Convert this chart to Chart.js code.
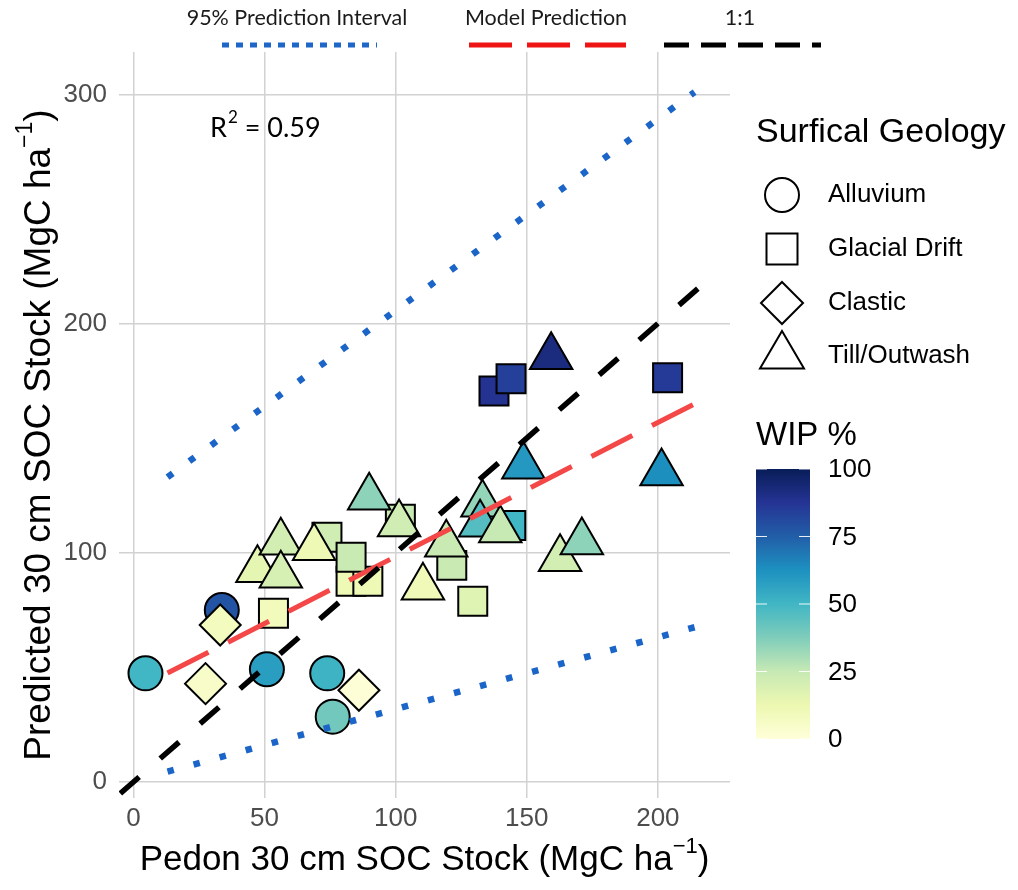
<!DOCTYPE html>
<html>
<head>
<meta charset="utf-8">
<script src="https://cdn.jsdelivr.net/npm/chart.js@4.4.0/dist/chart.umd.min.js"></script>
<style>
  html, body { margin: 0; padding: 0; background: #fff; }
</style>
</head>
<body>
<canvas id="chart" width="1018" height="890"></canvas>
<script>
// values (pedon vs predicted SOC stock, WIP %)
const alluviumX = [4.6, 33.7, 50.9, 73.9, 76.0];
const alluviumY = [47.4, 75.0, 49.2, 47.4, 28.5];
const alluviumWip = [50, 78, 58, 51, 40];

const driftX = [53.4, 73.8, 83.0, 89.4, 83.0, 101.8, 121.4, 129.4, 143.9, 137.5, 144.0, 203.7];
const driftY = [73.6, 106.8, 87.6, 87.6, 98.0, 114.6, 94.5, 78.8, 111.9, 170.6, 175.9, 176.4];
const driftWip = [9, 22, 11, 11, 24, 25, 24, 17, 50, 88, 84, 86];

const clasticX = [33.1, 27.5, 86.0];
const clasticY = [68.5, 42.9, 40.0];
const clasticWip = [8, 5, 1];

const tillX = [47.3, 56.2, 56.2, 68.9, 89.9, 101.3, 110.4, 119.3, 133.1, 132.2, 139.9, 148.7, 162.7, 171.0, 159.3, 201.4];
const tillY = [92.6, 104.6, 90.2, 102.2, 124.2, 112.6, 85.0, 103.7, 121.2, 112.4, 109.9, 137.7, 97.4, 104.7, 185.5, 134.8];
const tillWip = [15, 21, 20, 11, 35, 22, 10, 24, 34, 46, 25, 60, 21, 35, 92, 63];

// reference / model lines
const oneToOneX = [-5, 222];
const oneToOneY = [-5, 222];
const modelX = [13, 214];
const modelY = [47.5, 165];
const upperX = [13, 214];
const upperY = [133, 301];
const lowerX = [13, 214];
const lowerY = [4.5, 67.5];

const xTickVals = [0, 50, 100, 150, 200];
const yTickVals = [0, 100, 200, 300];
const wipTicks = [0, 25, 50, 75, 100];

const ylgnbu = ['#ffffd9', '#edf8b1', '#c7e9b4', '#7fcdbb', '#41b6c4', '#1d91c0', '#225ea8', '#253494', '#081d58'];

function hexRgb(h) {
    return [parseInt(h.substr(1, 2), 16), parseInt(h.substr(3, 2), 16), parseInt(h.substr(5, 2), 16)];
}

function wipColor(v) {
    const t = Math.max(0, Math.min(1, v / 100)) * (ylgnbu.length - 1);
    const i = Math.min(Math.floor(t), ylgnbu.length - 2);
    const f = t - i;
    const a = hexRgb(ylgnbu[i]), b = hexRgb(ylgnbu[i + 1]);
    const c = a.map((x, k) => Math.round(x + (b[k] - x) * f));
    return 'rgb(' + c.join(',') + ')';
}

function pts(xs, ys) {
    return xs.map((x, i) => ({ x: x, y: ys[i] }));
}

const FONT = '"Liberation Sans", Arial, Helvetica, sans-serif';
const NOTE_FONT = 'Lato, "Open Sans", sans-serif';

function supText(ctx, main, sup, tail, cx, cy, angle, size) {
    ctx.save();
    ctx.translate(cx, cy);
    ctx.rotate(angle);
    ctx.fillStyle = '#000';
    ctx.textBaseline = 'middle';
    ctx.textAlign = 'left';
    const big = size + 'px ' + FONT;
    const small = Math.round(size * 0.62) + 'px ' + FONT;
    ctx.font = big;
    const w1 = ctx.measureText(main).width;
    const w3 = ctx.measureText(tail).width;
    ctx.font = small;
    const w2 = ctx.measureText(sup).width;
    let x = -(w1 + w2 + w3) / 2;
    ctx.font = big;
    ctx.fillText(main, x, 0);
    x += w1;
    ctx.font = small;
    ctx.fillText(sup, x, -size * 0.38);
    x += w2;
    ctx.font = big;
    ctx.fillText(tail, x, 0);
    ctx.restore();
}

function dashLine(ctx, x1, x2, y, color, width, dash) {
    ctx.save();
    ctx.strokeStyle = color;
    ctx.lineWidth = width;
    ctx.setLineDash(dash);
    ctx.beginPath();
    ctx.moveTo(x1, y);
    ctx.lineTo(x2, y);
    ctx.stroke();
    ctx.restore();
}

function legendShape(ctx, kind, x, y) {
    ctx.save();
    ctx.fillStyle = '#fff';
    ctx.strokeStyle = '#000';
    ctx.lineWidth = 2;
    ctx.beginPath();
    if (kind === 'circle') {
        ctx.arc(x, y, 17, 0, Math.PI * 2);
    } else if (kind === 'square') {
        ctx.rect(x - 15.5, y - 15.5, 31, 31);
    } else if (kind === 'diamond') {
        ctx.moveTo(x, y - 21); ctx.lineTo(x + 21, y); ctx.lineTo(x, y + 21); ctx.lineTo(x - 21, y);
        ctx.closePath();
    } else {
        ctx.moveTo(x, y - 25); ctx.lineTo(x + 22, y + 12.5); ctx.lineTo(x - 22, y + 12.5);
        ctx.closePath();
    }
    ctx.fill();
    ctx.stroke();
    ctx.restore();
}

const decor = {
    id: 'decor',
    afterDraw(chart) {
        const ctx = chart.ctx;
        const area = chart.chartArea;

        // axis titles
        supText(ctx, 'Pedon 30 cm SOC Stock (MgC ha', '\u22121', ')', (area.left + area.right) / 2, 860, 0, 35);
        supText(ctx, 'Predicted 30 cm SOC Stock (MgC ha', '\u22121', ')', 40, 435, -Math.PI / 2, 37);

        // top legend
        ctx.save();
        ctx.fillStyle = '#1a1a1a';
        ctx.font = '21.5px ' + NOTE_FONT;
        ctx.textAlign = 'center';
        ctx.textBaseline = 'middle';
        ctx.fillText('95% Prediction Interval', 297, 18);
        ctx.fillText('Model Prediction', 546, 18);
        ctx.fillText('1:1', 740, 18);
        ctx.restore();
        dashLine(ctx, 222, 377, 45, '#1f66c9', 5, [7, 7]);
        dashLine(ctx, 469, 626, 45, '#ee1414', 5, [43, 15]);
        dashLine(ctx, 664, 821, 45, '#000', 5, [25, 12]);

        // R squared note
        ctx.save();
        ctx.fillStyle = '#000';
        ctx.textBaseline = 'middle';
        ctx.textAlign = 'left';
        ctx.font = '27px ' + NOTE_FONT;
        ctx.fillText('R', 210, 128);
        let rx = 210 + ctx.measureText('R').width;
        ctx.font = '17px ' + NOTE_FONT;
        ctx.fillText('2', rx + 1, 118);
        rx += ctx.measureText('2').width + 1;
        ctx.font = '27px ' + NOTE_FONT;
        ctx.fillText(' = 0.59', rx, 128);
        ctx.restore();

        // shape legend
        ctx.save();
        ctx.fillStyle = '#000';
        ctx.textBaseline = 'middle';
        ctx.textAlign = 'left';
        ctx.font = '34px ' + FONT;
        ctx.fillText('Surfical Geology', 756, 133);
        ctx.font = '26px ' + FONT;
        const items = [['circle', 'Alluvium', 195], ['square', 'Glacial Drift', 249], ['diamond', 'Clastic', 303], ['triangle', 'Till/Outwash', 356]];
        items.forEach(it => {
            legendShape(ctx, it[0], 782, it[2]);
            ctx.fillText(it[1], 828, it[2]);
        });

        // colour bar
        ctx.font = '33px ' + FONT;
        ctx.fillText('WIP %', 756, 436);
        const top = 469, bot = 739, bl = 756, br = 810;
        const grad = ctx.createLinearGradient(0, bot, 0, top);
        ylgnbu.forEach((c, i) => grad.addColorStop(i / (ylgnbu.length - 1), c));
        ctx.fillStyle = grad;
        ctx.fillRect(bl, top, br - bl, bot - top);
        ctx.strokeStyle = 'rgba(255,255,255,0.9)';
        ctx.lineWidth = 1;
        ctx.font = '26px ' + FONT;
        ctx.fillStyle = '#000';
        wipTicks.forEach(v => {
            const y = bot - (bot - top) * v / 100;
            ctx.beginPath();
            ctx.moveTo(bl, y); ctx.lineTo(bl + 11, y);
            ctx.moveTo(br - 11, y); ctx.lineTo(br, y);
            ctx.stroke();
            ctx.fillText(String(v), 828, y + 1);
        });
        ctx.restore();
    }
};

const tickFont = { family: FONT, size: 26 };

new Chart(document.getElementById('chart'), {
    type: 'scatter',
    data: {
        datasets: [
            {
                type: 'line', label: '1:1', data: pts(oneToOneX, oneToOneY),
                borderColor: '#000', borderWidth: 5.5, borderDash: [25, 28],
                pointRadius: 0, fill: false, order: 0
            },
            {
                type: 'line', label: 'Model Prediction', data: pts(modelX, modelY),
                borderColor: '#f44848', borderWidth: 5, borderDash: [46, 22],
                pointRadius: 0, fill: false, order: 1
            },
            {
                type: 'line', label: 'Upper 95%', data: pts(upperX, upperY),
                borderColor: '#1b64c8', borderWidth: 6.5, borderDash: [6.5, 20.5],
                pointRadius: 0, fill: false, order: 2
            },
            {
                type: 'line', label: 'Lower 95%', data: pts(lowerX, lowerY),
                borderColor: '#1b64c8', borderWidth: 6.5, borderDash: [6.5, 20.5],
                pointRadius: 0, fill: false, order: 3
            },
            {
                label: 'Clastic', data: pts(clasticX, clasticY), pointStyle: 'rectRot',
                pointRadius: 20.5, backgroundColor: clasticWip.map(wipColor),
                borderColor: '#000', borderWidth: 2, order: 4
            },
            {
                label: 'Till/Outwash', data: pts(tillX, tillY), pointStyle: 'triangle',
                pointRadius: 24.5, backgroundColor: tillWip.map(wipColor),
                borderColor: '#000', borderWidth: 2, order: 5
            },
            {
                label: 'Glacial Drift', data: pts(driftX, driftY), pointStyle: 'rect',
                pointRadius: 20.5, backgroundColor: driftWip.map(wipColor),
                borderColor: '#000', borderWidth: 2, order: 6
            },
            {
                label: 'Alluvium', data: pts(alluviumX, alluviumY), pointStyle: 'circle',
                pointRadius: 17, backgroundColor: alluviumWip.map(wipColor),
                borderColor: '#000', borderWidth: 2, order: 7
            }
        ]
    },
    options: {
        responsive: false,
        animation: false,
        events: [],
        layout: { padding: { top: 52, right: 288, left: 0, bottom: 0 }, autoPadding: false },
        plugins: { legend: { display: false }, tooltip: { enabled: false } },
        scales: {
            x: {
                type: 'linear', min: -5.5, max: 227.5,
                afterBuildTicks: s => { s.ticks = xTickVals.map(v => ({ value: v })); },
                afterFit: s => { s.height = 92; },
                grid: { color: '#d2d2d2', lineWidth: 1.5, drawTicks: false },
                border: { display: false },
                ticks: { color: '#4d4d4d', font: tickFont, padding: 5, maxRotation: 0 }
            },
            y: {
                type: 'linear', min: -7, max: 318.5,
                afterBuildTicks: s => { s.ticks = yTickVals.map(v => ({ value: v })); },
                afterFit: s => { s.width = 119; },
                grid: { color: '#d2d2d2', lineWidth: 1.5, drawTicks: false },
                border: { display: false },
                ticks: { color: '#4d4d4d', font: tickFont, padding: 12 }
            }
        }
    },
    plugins: [decor]
});
</script>
</body>
</html>
